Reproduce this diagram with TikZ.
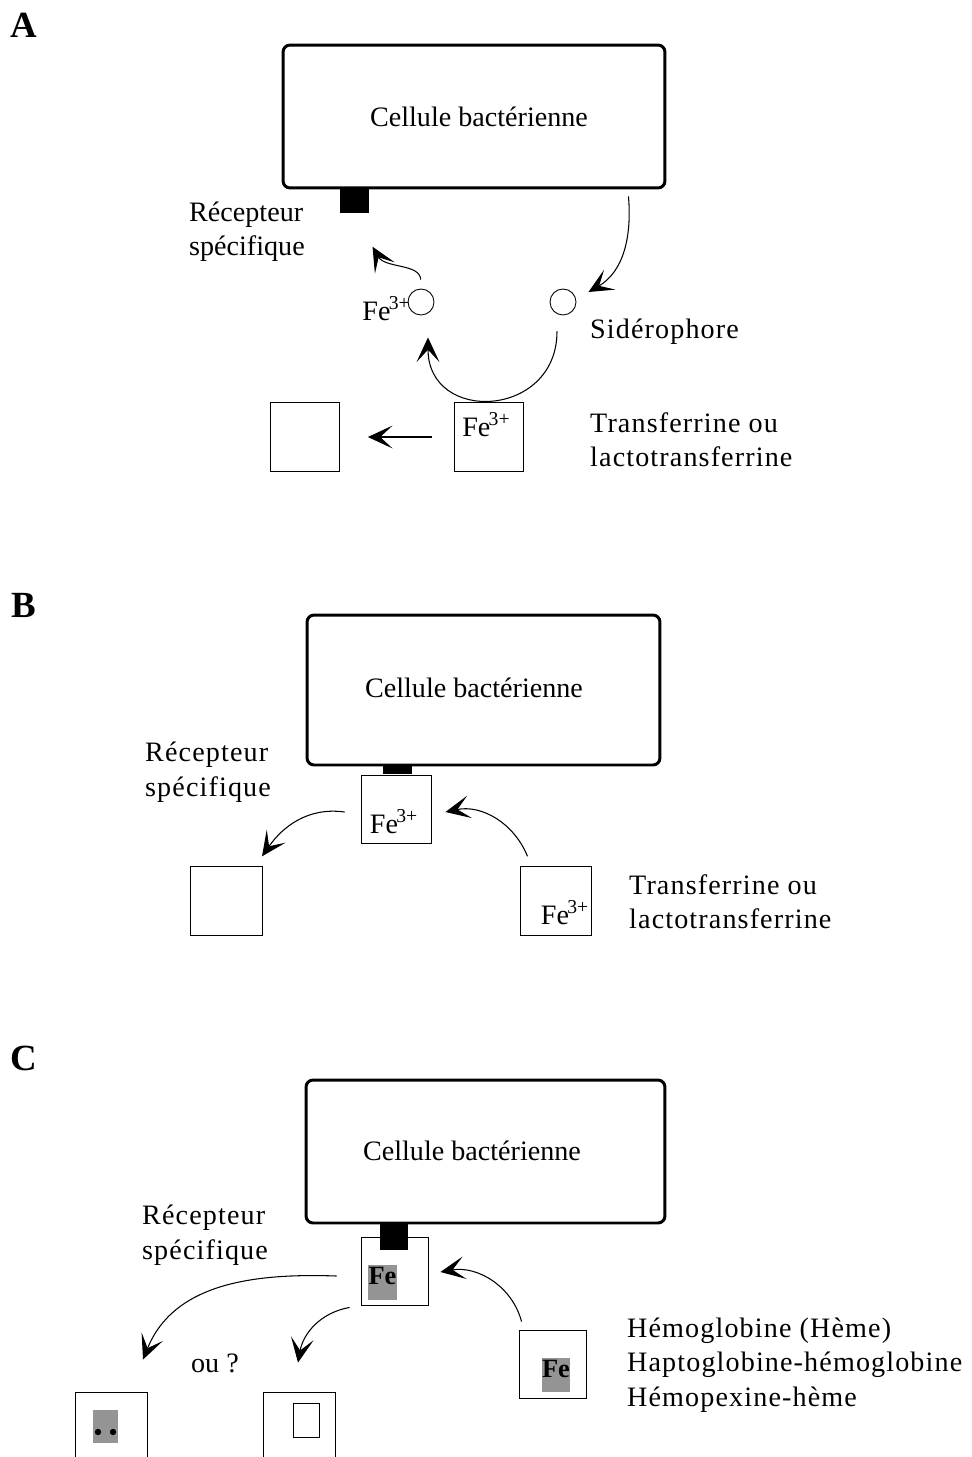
\documentclass[tikz,border=0pt]{standalone}
\usepackage{fontspec}
\setmainfont{Liberation Serif}
\newfontfamily\widefont[LetterSpace=4]{Liberation Serif}
\usetikzlibrary{arrows.meta}

\begin{document}
\begin{tikzpicture}[x=0.02cm, y=0.02cm]
  \tikzset{
    cell/.style={draw,line width=1.7pt,rounded corners=4pt,minimum height=2.86cm},
    celltxt/.style={font=\fontsize{16}{19}\selectfont},
    recept/.style={fill=black,inner sep=0pt,anchor=north,minimum width=0.58cm},
    carrier/.style={draw,line width=0.5pt,inner sep=0pt,minimum width=1.38cm,minimum height=1.37cm},
    sidero/.style={draw,circle,line width=0.5pt,inner sep=0pt,minimum size=0.52cm},
    heme/.style={fill=black!42,inner sep=0pt},
    hemefe/.style={inner sep=0pt,font=\fontsize{15}{15}\selectfont\bfseries},
    side/.style={anchor=west,align=left,font=\fontsize{16}{19.6}\selectfont\widefont},
    fe/.style={inner sep=0pt,font=\fontsize{16}{16}\selectfont},
    panel/.style={font=\fontsize{21}{21}\selectfont\bfseries},
    flow/.style={-{Stealth[length=14pt,width=13pt,inset=7pt]},line width=0.6pt}
  }
  \useasboundingbox (0,0) rectangle (971,-1457);
  \clip (0,0) rectangle (971,-1457);

  % A
  \node[panel] (pA) at (24,-25) {A};
  \node[cell,minimum width=7.64cm] (cellA) at (474,-116.5) {};
  \node[celltxt] (cellAtxt) at (479,-117) {Cellule bactérienne};
  \node[recept,minimum height=0.5cm] (recA) at (354.5,-188) {};
  \node[side,font=\fontsize{16}{19.6}\selectfont] (recAtxt) at (183,-231.5) {Récepteur\\spécifique};
  \node[sidero] (feA) at (421,-302) {};
  \node[fe,anchor=east] (feAtxt) at (411,-309) {Fe\kern-1pt\textsuperscript{3+}};
  \node[sidero] (sidA) at (563,-302) {};
  \node[side] (sidAtxt) at (584,-332) {Sidérophore};
  \node[carrier] (emptyA) at (305,-437) {};
  \node[carrier] (tfA) at (489,-437) {};
  \node[fe,anchor=north west] (tfAfe) at (462,-412) {Fe\kern-1pt\textsuperscript{3+}};
  \node[side] (tfAtxt) at (584,-440) {Transferrine ou\\lactotransferrine};
  \draw[flow,shorten <=0.18cm] (feA.north) to[out=92,in=-60] ([shift={(18,-33)}]recA.south);
  \draw[flow] ([shift={(-38,-7)}]cellA.south east) to[out=-85,in=30] ([shift={(12,10)}]sidA.east);
  \draw[flow] ([shift={(-6,-16)}]sidA.south) .. controls +(0,-87) and +(0,-87) .. ([shift={(7,-22)}]feA.south);
  \draw[flow,shorten <=0.44cm,shorten >=0.56cm] (tfA.west) -- (emptyA.east);

  % B
  \node[panel] (pB) at (24,-605) {B};
  \node[cell,minimum width=7.06cm,minimum height=3.0cm] (cellB) at (483.5,-690) {};
  \node[celltxt] (cellBtxt) at (474,-688) {Cellule bactérienne};
  \node[recept,minimum height=0.2cm] (recB) at (397.5,-764) {};
  \node[carrier,minimum width=1.4cm,minimum height=1.36cm] (fB) at (396,-809) {};
  \node[fe] (fBfe) at (394,-822) {Fe\kern-1pt\textsuperscript{3+}};
  \node[side] (recBtxt) at (139,-772) {Récepteur\\spécifique};
  \node[carrier,minimum width=1.44cm] (emptyB) at (226,-901) {};
  \node[carrier,minimum width=1.42cm] (tfB) at (555.5,-901) {};
  \node[fe] (tfBfe) at (565,-913) {Fe\kern-1pt\textsuperscript{3+}};
  \node[side] (tfBtxt) at (623,-902) {Transferrine ou\\lactotransferrine};
  \draw[flow] ([shift={(-16,-3)}]fB.west) to[out=172,in=55] ([shift={(36,10)}]emptyB.north);
  \draw[flow] ([shift={(-28,10)}]tfB.north) to[out=112,in=12] ([shift={(14,-3)}]fB.east);

  % C
  \node[panel] (pC) at (24,-1058) {C};
  \node[cell,minimum width=7.18cm] (cellC) at (485.5,-1151.5) {};
  \node[celltxt] (cellCtxt) at (472,-1151) {Cellule bactérienne};
  \node[carrier,minimum width=1.34cm,minimum height=1.36cm] (fC) at (394.5,-1271) {};
  \node[recept,minimum width=0.56cm,minimum height=0.56cm] (recC) at (394,-1222) {};
  \node[heme,minimum width=0.58cm,minimum height=0.7cm] (fCheme) at (382.5,-1282.5) {};
  \node[hemefe,anchor=north] (fCfe) at ([yshift=-1]fCheme.north) {Fe};
  \node[side] (recCtxt) at (136,-1235) {Récepteur\\spécifique};
  \node[carrier,minimum width=1.44cm,minimum height=1.4cm] (outC1) at (111,-1427) {};
  \node[heme,minimum width=0.5cm,minimum height=0.66cm] (outC1heme) at (105.5,-1426.5) {};
  \fill (98,-1432) circle (3.2) (113,-1432) circle (3.2);
  \node[carrier,minimum width=1.44cm,minimum height=1.4cm] (outC2) at (299,-1427) {};
  \node[draw,line width=0.5pt,inner sep=0pt,minimum width=0.52cm,minimum height=0.68cm] (outC2in) at (306,-1420) {};
  \node[celltxt] (ouC) at (215,-1363) {ou ?};
  \node[carrier,minimum width=1.34cm,minimum height=1.36cm] (tfC) at (552.5,-1364) {};
  \node[heme,minimum width=0.56cm,minimum height=0.68cm] (tfCheme) at (556,-1375) {};
  \node[hemefe,anchor=north] (tfCfe) at ([yshift=-1]tfCheme.north) {Fe};
  \node[side] (tfCtxt) at (621,-1365) {Hémoglobine (Hème)\\Haptoglobine-hémoglobine\\Hémopexine-hème};
  \draw[flow] ([shift={(-24,-5)}]fC.west) to[out=178,in=68] ([shift={(32,32)}]outC1.north);
  \draw[flow] ([shift={(-11,-2)}]fC.south west) to[out=190,in=80] ([shift={(-1,29)}]outC2.north);
  \draw[flow] ([shift={(3,8)}]tfC.north west) to[out=105,in=10] ([shift={(12,-1)}]fC.east);
\end{tikzpicture}
\end{document}
